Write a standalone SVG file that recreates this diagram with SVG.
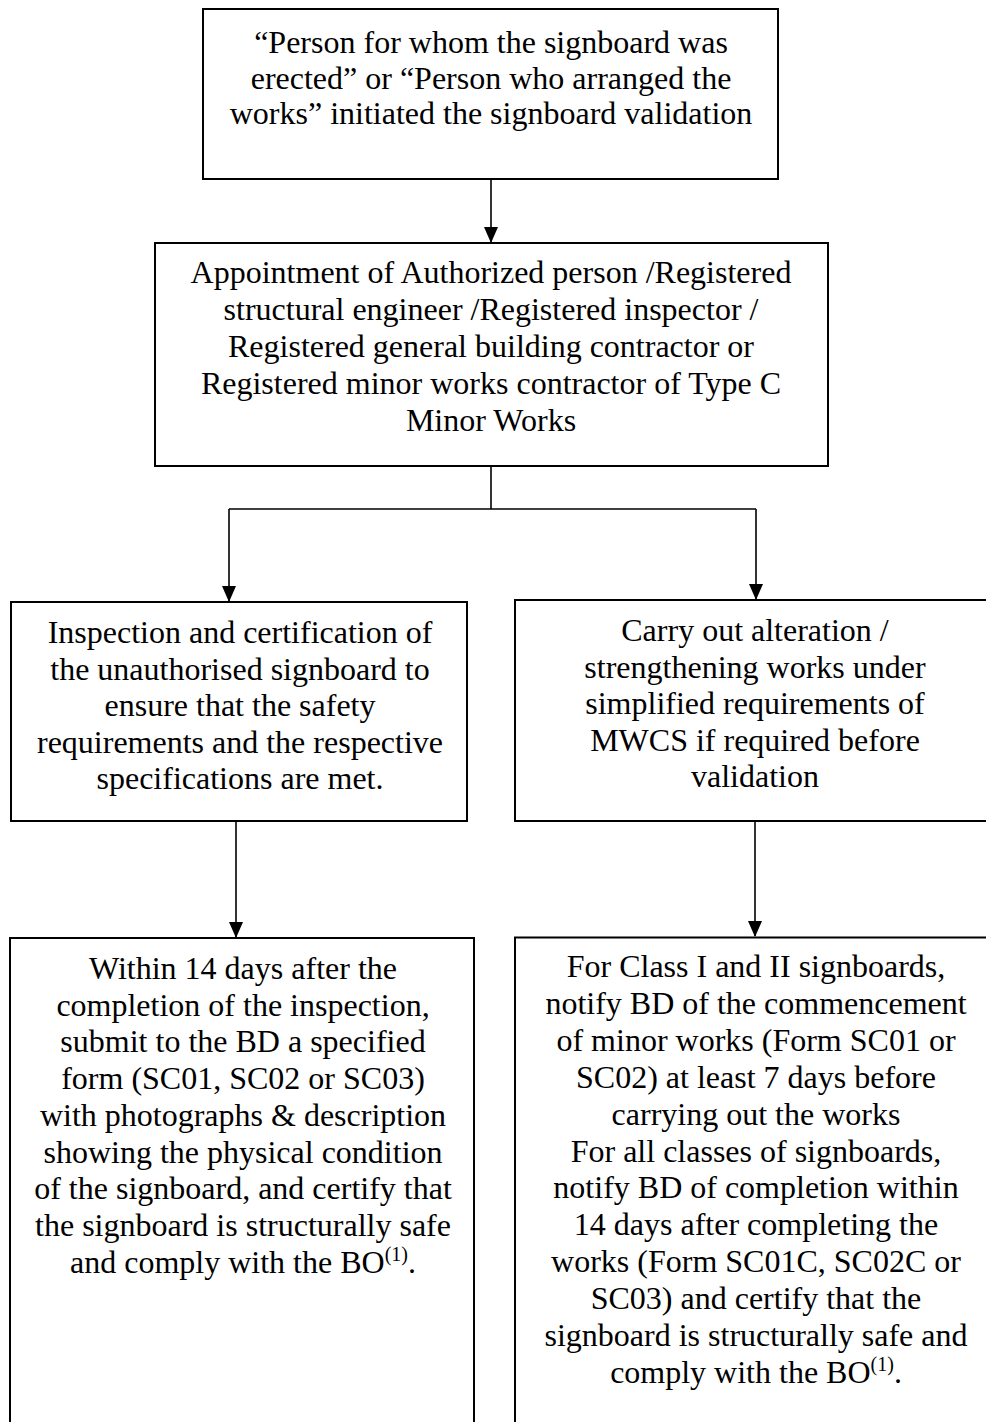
<svg xmlns="http://www.w3.org/2000/svg" width="986" height="1422" viewBox="0 0 986 1422">
<style>
.box{fill:#fff;stroke:#000;stroke-width:2}
.t{font-family:"Liberation Serif","Times New Roman",serif;font-size:32px;fill:#000;text-anchor:middle}
.sup{font-size:20px}
.c{fill:none;stroke:#000;stroke-width:1.6}
</style>
<defs>
<marker id="ah" markerUnits="userSpaceOnUse" markerWidth="16" markerHeight="20" refX="15" refY="7" orient="auto" viewBox="0 0 16 14">
<path d="M0,0 L16,7 L0,14 Z" fill="#000"/>
</marker>
</defs>
<rect width="986" height="1422" fill="#fff"/>
<g id="connectors">
<path class="c" d="M491,180 V242" marker-end="url(#ah)"/>
<path class="c" d="M491,466 V509"/>
<path class="c" d="M229,509 H756"/>
<path class="c" d="M229,509 V601" marker-end="url(#ah)"/>
<path class="c" d="M756,509 V599" marker-end="url(#ah)"/>
<path class="c" d="M236,821 V937" marker-end="url(#ah)"/>
<path class="c" d="M755,821 V936" marker-end="url(#ah)"/>
</g>
<g id="n1">
<rect class="box" x="203" y="9" width="575" height="170"/>
<text class="t" x="491" y="53">“Person for whom the signboard was</text>
<text class="t" x="491" y="88.5">erected” or “Person who arranged the</text>
<text class="t" x="491" y="124">works” initiated the signboard validation</text>
</g>
<g id="n2">
<rect class="box" x="155" y="243" width="673" height="223"/>
<text class="t" x="491" y="283">Appointment of Authorized person /Registered</text>
<text class="t" x="491" y="320">structural engineer /Registered inspector /</text>
<text class="t" x="491" y="357">Registered general building contractor or</text>
<text class="t" x="491" y="394">Registered minor works contractor of Type C</text>
<text class="t" x="491" y="431">Minor Works</text>
</g>
<g id="n3">
<rect class="box" x="11" y="602" width="456" height="219"/>
<text class="t" x="240" y="643">Inspection and certification of</text>
<text class="t" x="240" y="679.5">the unauthorised signboard to</text>
<text class="t" x="240" y="716">ensure that the safety</text>
<text class="t" x="240" y="752.5">requirements and the respective</text>
<text class="t" x="240" y="789">specifications are met.</text>
</g>
<g id="n4">
<rect class="box" x="515" y="600" width="481" height="221"/>
<text class="t" x="755" y="641">Carry out alteration /</text>
<text class="t" x="755" y="677.5">strengthening works under</text>
<text class="t" x="755" y="714">simplified requirements of</text>
<text class="t" x="755" y="750.5">MWCS if required before</text>
<text class="t" x="755" y="787">validation</text>
</g>
<g id="n5">
<rect class="box" x="10" y="938" width="464" height="500"/>
<text class="t" x="243" y="979">Within 14 days after the</text>
<text class="t" x="243" y="1015.7">completion of the inspection,</text>
<text class="t" x="243" y="1052.4">submit to the BD a specified</text>
<text class="t" x="243" y="1089.1">form (SC01, SC02 or SC03)</text>
<text class="t" x="243" y="1125.8">with photographs &amp; description</text>
<text class="t" x="243" y="1162.5">showing the physical condition</text>
<text class="t" x="243" y="1199.2">of the signboard, and certify that</text>
<text class="t" x="243" y="1235.9">the signboard is structurally safe</text>
<text class="t" x="243" y="1272.6">and comply with the BO<tspan class="sup" dy="-12">(1)</tspan><tspan dy="12">.</tspan></text>
</g>
<g id="n6">
<rect class="box" x="515" y="937.5" width="481" height="500"/>
<text class="t" x="756" y="977">For Class I and II signboards,</text>
<text class="t" x="756" y="1013.9">notify BD of the commencement</text>
<text class="t" x="756" y="1050.8">of minor works (Form SC01 or</text>
<text class="t" x="756" y="1087.7">SC02) at least 7 days before</text>
<text class="t" x="756" y="1124.6">carrying out the works</text>
<text class="t" x="756" y="1161.5">For all classes of signboards,</text>
<text class="t" x="756" y="1198.4">notify BD of completion within</text>
<text class="t" x="756" y="1235.3">14 days after completing the</text>
<text class="t" x="756" y="1272.2">works (Form SC01C, SC02C or</text>
<text class="t" x="756" y="1309.1">SC03) and certify that the</text>
<text class="t" x="756" y="1346">signboard is structurally safe and</text>
<text class="t" x="756" y="1382.9">comply with the BO<tspan class="sup" dy="-12">(1)</tspan><tspan dy="12">.</tspan></text>
</g>
</svg>
